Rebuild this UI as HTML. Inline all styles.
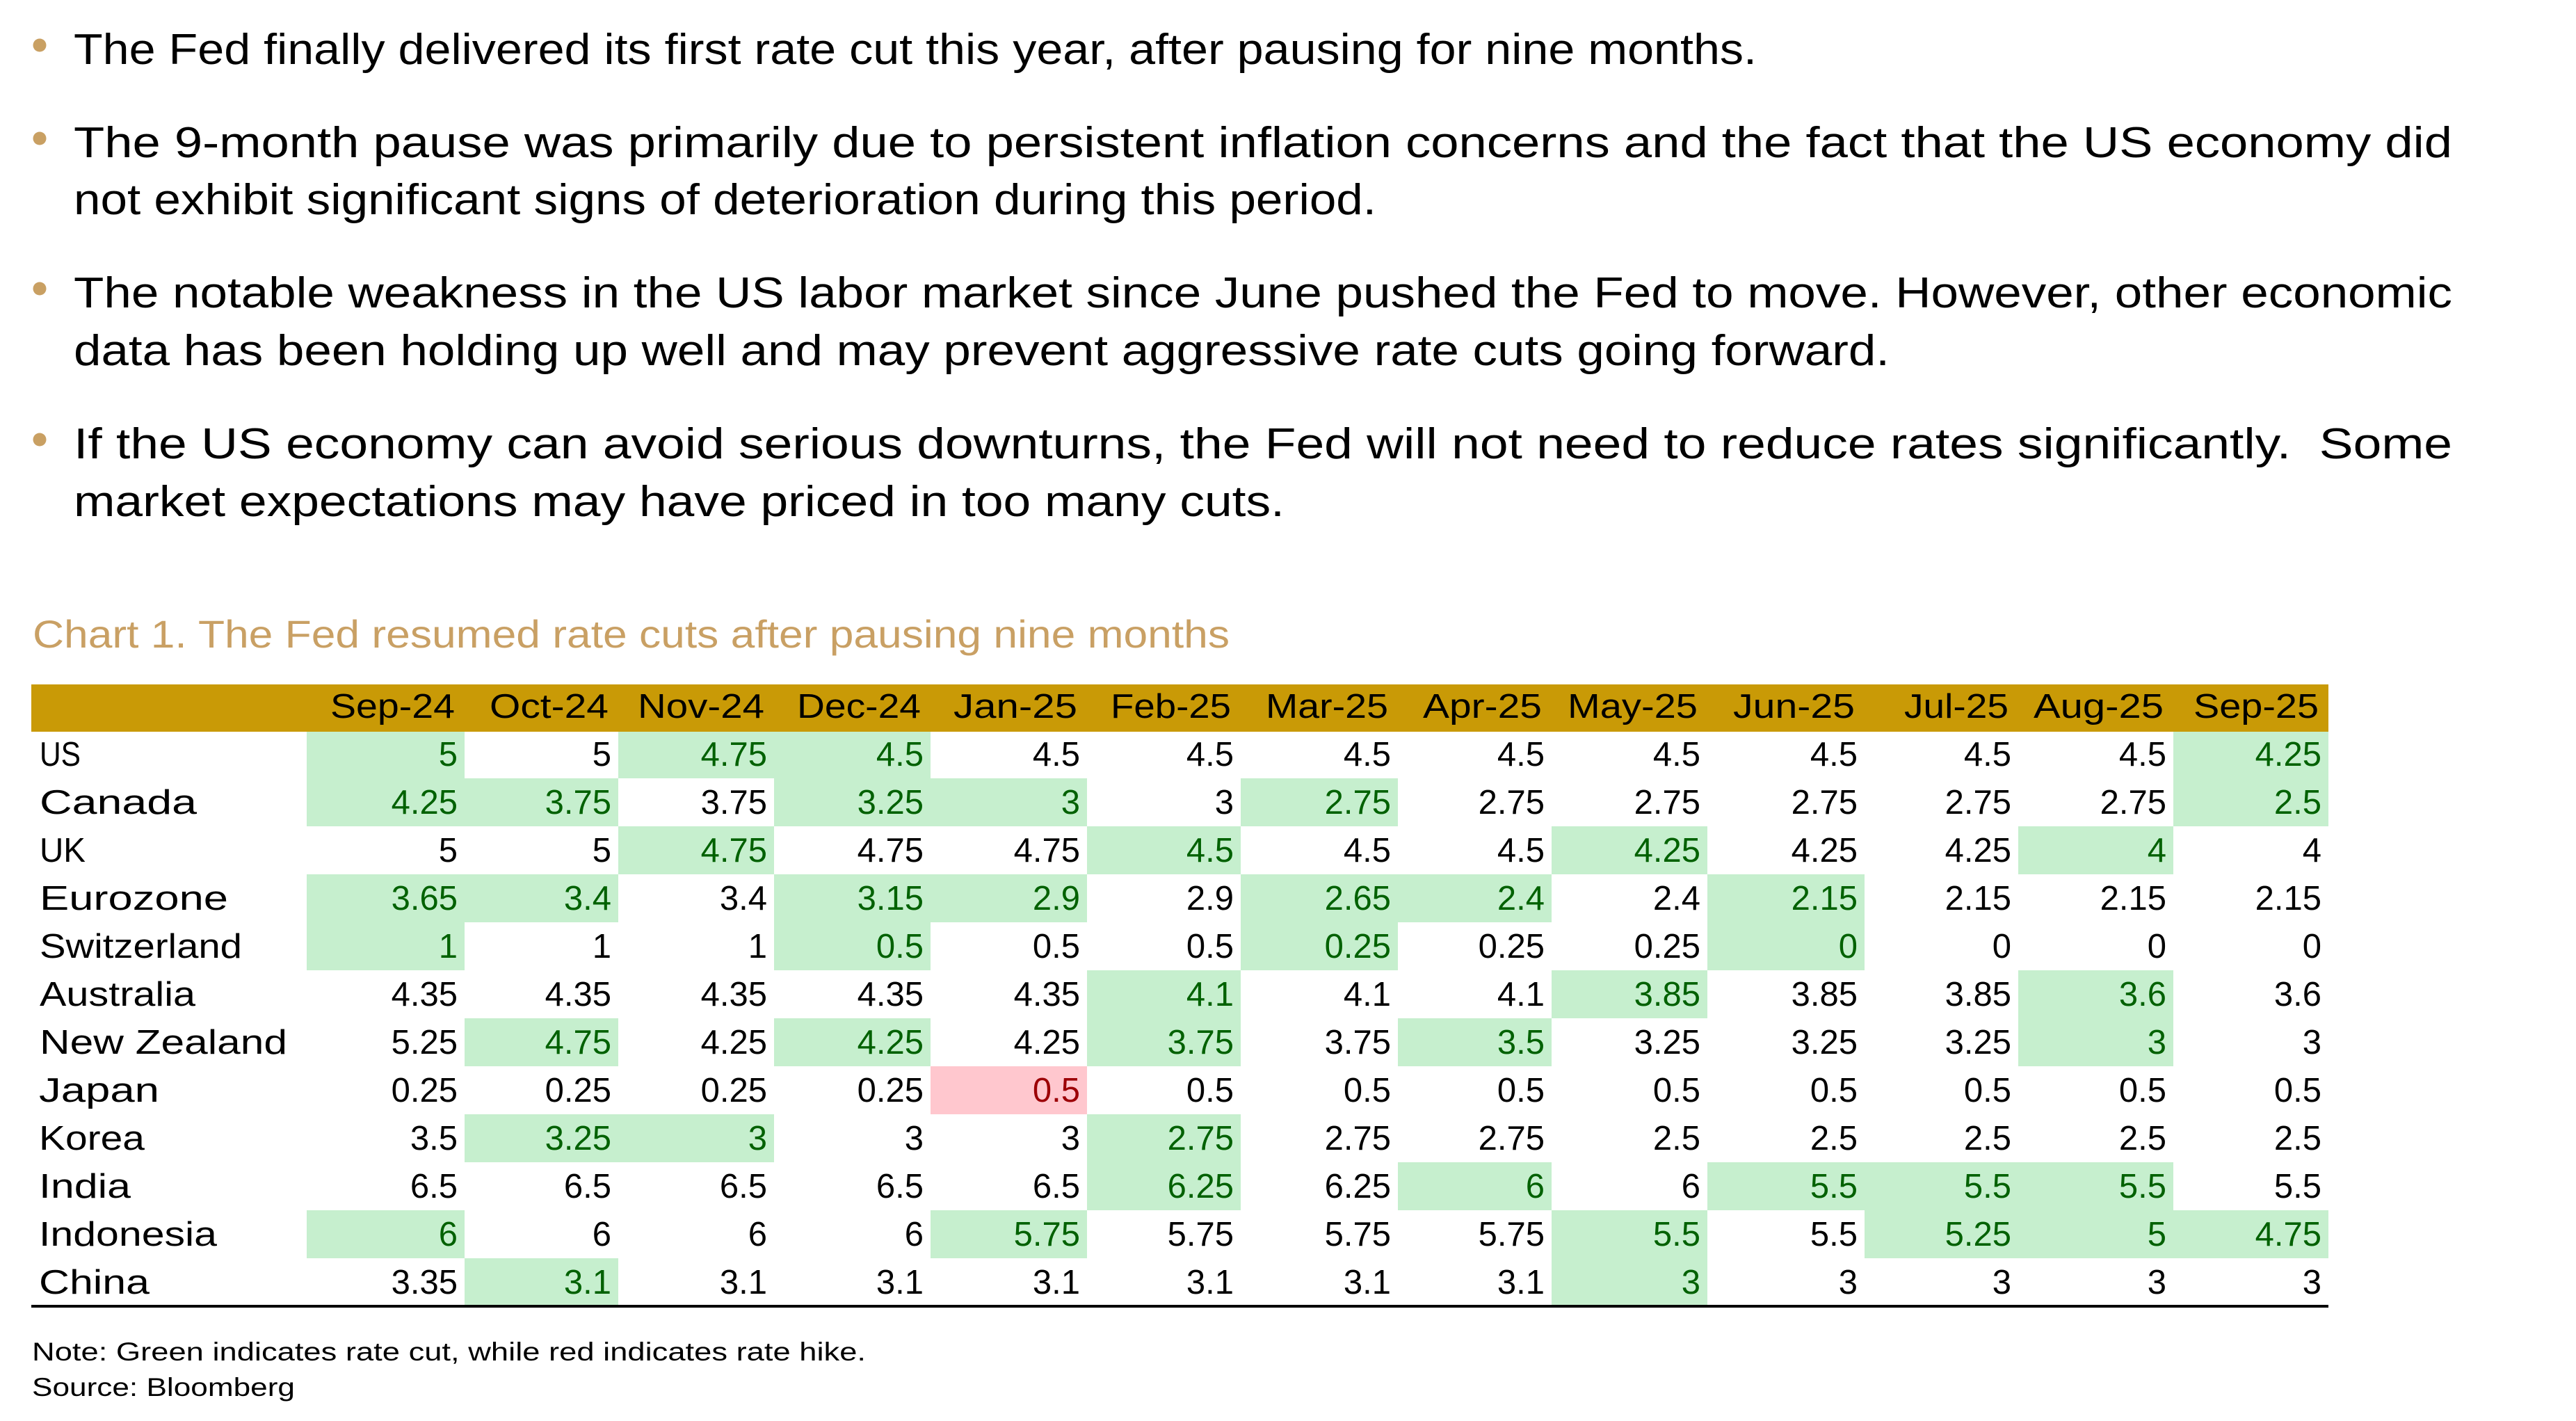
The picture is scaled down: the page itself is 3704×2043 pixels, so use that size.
<!DOCTYPE html>
<html>
<head>
<meta charset="utf-8">
<style>
html,body{margin:0;padding:0;background:#fff;}
body{width:3704px;height:2043px;overflow:hidden;}
svg{display:block;}
text{font-family:"Liberation Sans",Arial,sans-serif;}
.b{font-size:62px;fill:#000;}
.h{font-size:49px;fill:#000;}
.l{font-size:49px;fill:#000;}
.n{font-size:49px;fill:#000;text-anchor:end;}
.g{font-size:49px;fill:#006100;text-anchor:end;}
.r{font-size:49px;fill:#9C0006;text-anchor:end;}
.ft{font-size:37px;fill:#000;}
</style>
</head>
<body>
<svg width="3704" height="2043" viewBox="0 0 3704 2043" xmlns="http://www.w3.org/2000/svg">
<rect x="0" y="0" width="3704" height="2043" fill="#fff"/>

<!-- Bullets -->
<g fill="#C9A063">
<circle cx="57" cy="65" r="9.5"/>
<circle cx="57" cy="199" r="9.5"/>
<circle cx="57" cy="415" r="9.5"/>
<circle cx="57" cy="632" r="9.5"/>
</g>

<!-- Body text -->
<text class="b" x="106" y="92" textLength="2420" lengthAdjust="spacingAndGlyphs">The Fed finally delivered its first rate cut this year, after pausing for nine months.</text>
<text class="b" x="106" y="226" textLength="3420" lengthAdjust="spacingAndGlyphs">The 9-month pause was primarily due to persistent inflation concerns and the fact that the US economy did</text>
<text class="b" x="106" y="308" textLength="1873" lengthAdjust="spacingAndGlyphs">not exhibit significant signs of deterioration during this period.</text>
<text class="b" x="106" y="442" textLength="3420" lengthAdjust="spacingAndGlyphs">The notable weakness in the US labor market since June pushed the Fed to move. However, other economic</text>
<text class="b" x="106" y="525" textLength="2611" lengthAdjust="spacingAndGlyphs">data has been holding up well and may prevent aggressive rate cuts going forward.</text>
<text class="b" x="106" y="659" textLength="3420" lengthAdjust="spacingAndGlyphs">If the US economy can avoid serious downturns, the Fed will not need to reduce rates significantly.&#160; Some</text>
<text class="b" x="106" y="742" textLength="1741" lengthAdjust="spacingAndGlyphs">market expectations may have priced in too many cuts.</text>

<!-- Title -->
<text x="47" y="931" font-size="56" fill="#C9A064" textLength="1721" lengthAdjust="spacingAndGlyphs">Chart 1. The Fed resumed rate cuts after pausing nine months</text>

<!-- Highlight cells -->
<g fill="#C6EFCE">
<!-- US -->
<rect x="441" y="1050" width="227" height="69"/>
<rect x="889" y="1050" width="224" height="69"/>
<rect x="1113" y="1050" width="225" height="69"/>
<rect x="3125" y="1050" width="223" height="69"/>
<!-- Canada -->
<rect x="441" y="1119" width="227" height="69"/>
<rect x="668" y="1119" width="221" height="69"/>
<rect x="1113" y="1119" width="225" height="69"/>
<rect x="1338" y="1119" width="225" height="69"/>
<rect x="1784" y="1119" width="226" height="69"/>
<rect x="3125" y="1119" width="223" height="69"/>
<!-- UK -->
<rect x="889" y="1188" width="224" height="69"/>
<rect x="1563" y="1188" width="221" height="69"/>
<rect x="2231" y="1188" width="224" height="69"/>
<rect x="2902" y="1188" width="223" height="69"/>
<!-- Eurozone -->
<rect x="441" y="1257" width="227" height="69"/>
<rect x="668" y="1257" width="221" height="69"/>
<rect x="1113" y="1257" width="225" height="69"/>
<rect x="1338" y="1257" width="225" height="69"/>
<rect x="1784" y="1257" width="226" height="69"/>
<rect x="2010" y="1257" width="221" height="69"/>
<rect x="2455" y="1257" width="226" height="69"/>
<!-- Switzerland -->
<rect x="441" y="1326" width="227" height="69"/>
<rect x="1113" y="1326" width="225" height="69"/>
<rect x="1784" y="1326" width="226" height="69"/>
<rect x="2455" y="1326" width="226" height="69"/>
<!-- Australia -->
<rect x="1563" y="1395" width="221" height="69"/>
<rect x="2231" y="1395" width="224" height="69"/>
<rect x="2902" y="1395" width="223" height="69"/>
<!-- New Zealand -->
<rect x="668" y="1464" width="221" height="69"/>
<rect x="1113" y="1464" width="225" height="69"/>
<rect x="1563" y="1464" width="221" height="69"/>
<rect x="2010" y="1464" width="221" height="69"/>
<rect x="2902" y="1464" width="223" height="69"/>
<!-- Korea -->
<rect x="668" y="1602" width="221" height="69"/>
<rect x="889" y="1602" width="224" height="69"/>
<rect x="1563" y="1602" width="221" height="69"/>
<!-- India -->
<rect x="1563" y="1671" width="221" height="69"/>
<rect x="2010" y="1671" width="221" height="69"/>
<rect x="2455" y="1671" width="226" height="69"/>
<rect x="2681" y="1671" width="221" height="69"/>
<rect x="2902" y="1671" width="223" height="69"/>
<!-- Indonesia -->
<rect x="441" y="1740" width="227" height="69"/>
<rect x="1338" y="1740" width="225" height="69"/>
<rect x="2231" y="1740" width="224" height="69"/>
<rect x="2681" y="1740" width="221" height="69"/>
<rect x="2902" y="1740" width="223" height="69"/>
<rect x="3125" y="1740" width="223" height="69"/>
<!-- China -->
<rect x="668" y="1809" width="221" height="69"/>
<rect x="2231" y="1809" width="224" height="69"/>
</g>
<!-- Japan red -->
<rect x="1338" y="1533" width="225" height="69" fill="#FFC7CE"/>

<!-- Header band -->
<rect x="45" y="984" width="3303" height="68" fill="#C99A06"/>
<text class="h" x="475" y="1032" textLength="179" lengthAdjust="spacingAndGlyphs">Sep-24</text>
<text class="h" x="704" y="1032" textLength="171" lengthAdjust="spacingAndGlyphs">Oct-24</text>
<text class="h" x="917" y="1032" textLength="182" lengthAdjust="spacingAndGlyphs">Nov-24</text>
<text class="h" x="1146" y="1032" textLength="178" lengthAdjust="spacingAndGlyphs">Dec-24</text>
<text class="h" x="1371" y="1032" textLength="178" lengthAdjust="spacingAndGlyphs">Jan-25</text>
<text class="h" x="1597" y="1032" textLength="173" lengthAdjust="spacingAndGlyphs">Feb-25</text>
<text class="h" x="1820" y="1032" textLength="176" lengthAdjust="spacingAndGlyphs">Mar-25</text>
<text class="h" x="2046" y="1032" textLength="171" lengthAdjust="spacingAndGlyphs">Apr-25</text>
<text class="h" x="2254" y="1032" textLength="187" lengthAdjust="spacingAndGlyphs">May-25</text>
<text class="h" x="2492" y="1032" textLength="175" lengthAdjust="spacingAndGlyphs">Jun-25</text>
<text class="h" x="2738" y="1032" textLength="150" lengthAdjust="spacingAndGlyphs">Jul-25</text>
<text class="h" x="2924" y="1032" textLength="187" lengthAdjust="spacingAndGlyphs">Aug-25</text>
<text class="h" x="3154" y="1032" textLength="180" lengthAdjust="spacingAndGlyphs">Sep-25</text>

<!-- Row labels -->
<text class="l" x="57" y="1101" textLength="59" lengthAdjust="spacingAndGlyphs">US</text>
<text class="l" x="57" y="1170" textLength="226" lengthAdjust="spacingAndGlyphs">Canada</text>
<text class="l" x="57" y="1239" textLength="66" lengthAdjust="spacingAndGlyphs">UK</text>
<text class="l" x="57" y="1308" textLength="271" lengthAdjust="spacingAndGlyphs">Eurozone</text>
<text class="l" x="57" y="1377" textLength="291" lengthAdjust="spacingAndGlyphs">Switzerland</text>
<text class="l" x="57" y="1446" textLength="224" lengthAdjust="spacingAndGlyphs">Australia</text>
<text class="l" x="57" y="1515" textLength="356" lengthAdjust="spacingAndGlyphs">New Zealand</text>
<text class="l" x="56" y="1584" textLength="173" lengthAdjust="spacingAndGlyphs">Japan</text>
<text class="l" x="56" y="1653" textLength="152" lengthAdjust="spacingAndGlyphs">Korea</text>
<text class="l" x="56" y="1722" textLength="132" lengthAdjust="spacingAndGlyphs">India</text>
<text class="l" x="56" y="1791" textLength="256" lengthAdjust="spacingAndGlyphs">Indonesia</text>
<text class="l" x="56" y="1860" textLength="159" lengthAdjust="spacingAndGlyphs">China</text>

<!-- US -->
<text class="g" x="658" y="1101">5</text>
<text class="n" x="879" y="1101">5</text>
<text class="g" x="1103" y="1101">4.75</text>
<text class="g" x="1328" y="1101">4.5</text>
<text class="n" x="1553" y="1101">4.5</text>
<text class="n" x="1774" y="1101">4.5</text>
<text class="n" x="2000" y="1101">4.5</text>
<text class="n" x="2221" y="1101">4.5</text>
<text class="n" x="2445" y="1101">4.5</text>
<text class="n" x="2671" y="1101">4.5</text>
<text class="n" x="2892" y="1101">4.5</text>
<text class="n" x="3115" y="1101">4.5</text>
<text class="g" x="3338" y="1101">4.25</text>

<!-- Canada -->
<text class="g" x="658" y="1170">4.25</text>
<text class="g" x="879" y="1170">3.75</text>
<text class="n" x="1103" y="1170">3.75</text>
<text class="g" x="1328" y="1170">3.25</text>
<text class="g" x="1553" y="1170">3</text>
<text class="n" x="1774" y="1170">3</text>
<text class="g" x="2000" y="1170">2.75</text>
<text class="n" x="2221" y="1170">2.75</text>
<text class="n" x="2445" y="1170">2.75</text>
<text class="n" x="2671" y="1170">2.75</text>
<text class="n" x="2892" y="1170">2.75</text>
<text class="n" x="3115" y="1170">2.75</text>
<text class="g" x="3338" y="1170">2.5</text>

<!-- UK -->
<text class="n" x="658" y="1239">5</text>
<text class="n" x="879" y="1239">5</text>
<text class="g" x="1103" y="1239">4.75</text>
<text class="n" x="1328" y="1239">4.75</text>
<text class="n" x="1553" y="1239">4.75</text>
<text class="g" x="1774" y="1239">4.5</text>
<text class="n" x="2000" y="1239">4.5</text>
<text class="n" x="2221" y="1239">4.5</text>
<text class="g" x="2445" y="1239">4.25</text>
<text class="n" x="2671" y="1239">4.25</text>
<text class="n" x="2892" y="1239">4.25</text>
<text class="g" x="3115" y="1239">4</text>
<text class="n" x="3338" y="1239">4</text>

<!-- Eurozone -->
<text class="g" x="658" y="1308">3.65</text>
<text class="g" x="879" y="1308">3.4</text>
<text class="n" x="1103" y="1308">3.4</text>
<text class="g" x="1328" y="1308">3.15</text>
<text class="g" x="1553" y="1308">2.9</text>
<text class="n" x="1774" y="1308">2.9</text>
<text class="g" x="2000" y="1308">2.65</text>
<text class="g" x="2221" y="1308">2.4</text>
<text class="n" x="2445" y="1308">2.4</text>
<text class="g" x="2671" y="1308">2.15</text>
<text class="n" x="2892" y="1308">2.15</text>
<text class="n" x="3115" y="1308">2.15</text>
<text class="n" x="3338" y="1308">2.15</text>

<!-- Switzerland -->
<text class="g" x="658" y="1377">1</text>
<text class="n" x="879" y="1377">1</text>
<text class="n" x="1103" y="1377">1</text>
<text class="g" x="1328" y="1377">0.5</text>
<text class="n" x="1553" y="1377">0.5</text>
<text class="n" x="1774" y="1377">0.5</text>
<text class="g" x="2000" y="1377">0.25</text>
<text class="n" x="2221" y="1377">0.25</text>
<text class="n" x="2445" y="1377">0.25</text>
<text class="g" x="2671" y="1377">0</text>
<text class="n" x="2892" y="1377">0</text>
<text class="n" x="3115" y="1377">0</text>
<text class="n" x="3338" y="1377">0</text>

<!-- Australia -->
<text class="n" x="658" y="1446">4.35</text>
<text class="n" x="879" y="1446">4.35</text>
<text class="n" x="1103" y="1446">4.35</text>
<text class="n" x="1328" y="1446">4.35</text>
<text class="n" x="1553" y="1446">4.35</text>
<text class="g" x="1774" y="1446">4.1</text>
<text class="n" x="2000" y="1446">4.1</text>
<text class="n" x="2221" y="1446">4.1</text>
<text class="g" x="2445" y="1446">3.85</text>
<text class="n" x="2671" y="1446">3.85</text>
<text class="n" x="2892" y="1446">3.85</text>
<text class="g" x="3115" y="1446">3.6</text>
<text class="n" x="3338" y="1446">3.6</text>

<!-- New Zealand -->
<text class="n" x="658" y="1515">5.25</text>
<text class="g" x="879" y="1515">4.75</text>
<text class="n" x="1103" y="1515">4.25</text>
<text class="g" x="1328" y="1515">4.25</text>
<text class="n" x="1553" y="1515">4.25</text>
<text class="g" x="1774" y="1515">3.75</text>
<text class="n" x="2000" y="1515">3.75</text>
<text class="g" x="2221" y="1515">3.5</text>
<text class="n" x="2445" y="1515">3.25</text>
<text class="n" x="2671" y="1515">3.25</text>
<text class="n" x="2892" y="1515">3.25</text>
<text class="g" x="3115" y="1515">3</text>
<text class="n" x="3338" y="1515">3</text>

<!-- Japan -->
<text class="n" x="658" y="1584">0.25</text>
<text class="n" x="879" y="1584">0.25</text>
<text class="n" x="1103" y="1584">0.25</text>
<text class="n" x="1328" y="1584">0.25</text>
<text class="r" x="1553" y="1584">0.5</text>
<text class="n" x="1774" y="1584">0.5</text>
<text class="n" x="2000" y="1584">0.5</text>
<text class="n" x="2221" y="1584">0.5</text>
<text class="n" x="2445" y="1584">0.5</text>
<text class="n" x="2671" y="1584">0.5</text>
<text class="n" x="2892" y="1584">0.5</text>
<text class="n" x="3115" y="1584">0.5</text>
<text class="n" x="3338" y="1584">0.5</text>

<!-- Korea -->
<text class="n" x="658" y="1653">3.5</text>
<text class="g" x="879" y="1653">3.25</text>
<text class="g" x="1103" y="1653">3</text>
<text class="n" x="1328" y="1653">3</text>
<text class="n" x="1553" y="1653">3</text>
<text class="g" x="1774" y="1653">2.75</text>
<text class="n" x="2000" y="1653">2.75</text>
<text class="n" x="2221" y="1653">2.75</text>
<text class="n" x="2445" y="1653">2.5</text>
<text class="n" x="2671" y="1653">2.5</text>
<text class="n" x="2892" y="1653">2.5</text>
<text class="n" x="3115" y="1653">2.5</text>
<text class="n" x="3338" y="1653">2.5</text>

<!-- India -->
<text class="n" x="658" y="1722">6.5</text>
<text class="n" x="879" y="1722">6.5</text>
<text class="n" x="1103" y="1722">6.5</text>
<text class="n" x="1328" y="1722">6.5</text>
<text class="n" x="1553" y="1722">6.5</text>
<text class="g" x="1774" y="1722">6.25</text>
<text class="n" x="2000" y="1722">6.25</text>
<text class="g" x="2221" y="1722">6</text>
<text class="n" x="2445" y="1722">6</text>
<text class="g" x="2671" y="1722">5.5</text>
<text class="g" x="2892" y="1722">5.5</text>
<text class="g" x="3115" y="1722">5.5</text>
<text class="n" x="3338" y="1722">5.5</text>

<!-- Indonesia -->
<text class="g" x="658" y="1791">6</text>
<text class="n" x="879" y="1791">6</text>
<text class="n" x="1103" y="1791">6</text>
<text class="n" x="1328" y="1791">6</text>
<text class="g" x="1553" y="1791">5.75</text>
<text class="n" x="1774" y="1791">5.75</text>
<text class="n" x="2000" y="1791">5.75</text>
<text class="n" x="2221" y="1791">5.75</text>
<text class="g" x="2445" y="1791">5.5</text>
<text class="n" x="2671" y="1791">5.5</text>
<text class="g" x="2892" y="1791">5.25</text>
<text class="g" x="3115" y="1791">5</text>
<text class="g" x="3338" y="1791">4.75</text>

<!-- China -->
<text class="n" x="658" y="1860">3.35</text>
<text class="g" x="879" y="1860">3.1</text>
<text class="n" x="1103" y="1860">3.1</text>
<text class="n" x="1328" y="1860">3.1</text>
<text class="n" x="1553" y="1860">3.1</text>
<text class="n" x="1774" y="1860">3.1</text>
<text class="n" x="2000" y="1860">3.1</text>
<text class="n" x="2221" y="1860">3.1</text>
<text class="g" x="2445" y="1860">3</text>
<text class="n" x="2671" y="1860">3</text>
<text class="n" x="2892" y="1860">3</text>
<text class="n" x="3115" y="1860">3</text>
<text class="n" x="3338" y="1860">3</text>

<!-- Bottom rule -->
<rect x="45" y="1876" width="3303" height="4" fill="#000"/>

<!-- Notes -->
<text class="ft" x="46" y="1956" textLength="1199" lengthAdjust="spacingAndGlyphs">Note: Green indicates rate cut, while red indicates rate hike.</text>
<text class="ft" x="46" y="2007" textLength="378" lengthAdjust="spacingAndGlyphs">Source: Bloomberg</text>
</svg>
</body>
</html>
